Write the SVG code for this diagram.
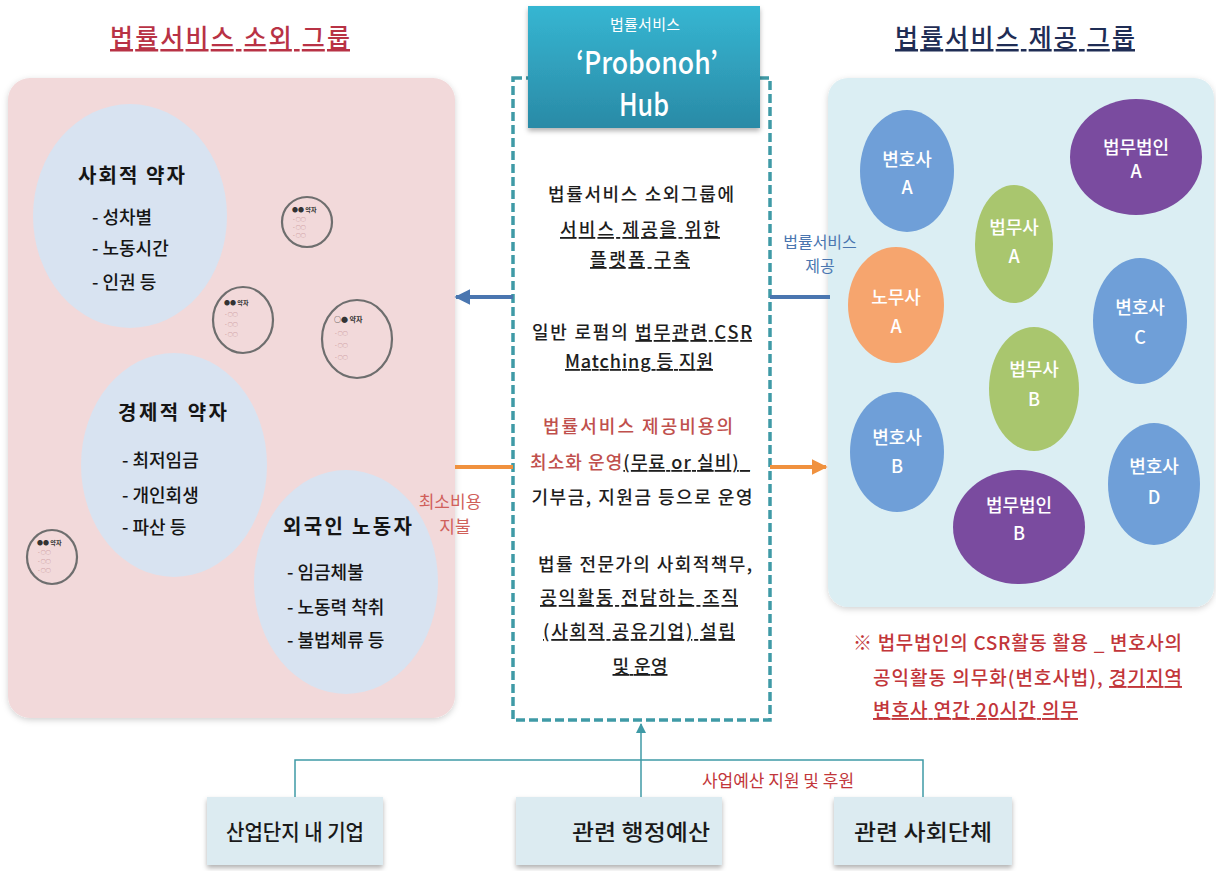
<svg xmlns="http://www.w3.org/2000/svg" width="1216" height="871" viewBox="0 0 1216 871">
<style>
text{font-family:'Noto Sans CJK KR','Noto Sans',sans-serif;}
.title{font-size:25px;text-decoration:underline;font-weight:500;}
.ct{font-size:18px;fill:#1e1e1e;text-anchor:middle;font-weight:500;}
.red{fill:#c0504d;}
.u{text-decoration:underline;}
.hd{font-size:20px;font-weight:700;fill:#151515;}
.it{font-size:18px;fill:#151515;font-weight:500;}
.et{font-size:18px;fill:#ffffff;text-anchor:middle;font-weight:500;}
.sm{fill:none;stroke:#6e6e6e;stroke-width:2.2;}
.smt{font-size:6px;fill:#333;font-weight:700;}
.smi{font-size:5px;fill:#b07070;}
.bx{fill:#dcebf1;filter:url(#sh);}
.bt{font-size:22px;fill:#1a1a1a;text-anchor:middle;font-weight:500;}
.note{font-size:19px;fill:#c2363a;font-weight:500;}
</style>
<defs>
<linearGradient id="hub" x1="0" y1="0" x2="0" y2="1">
<stop offset="0" stop-color="#36b6d2"/>
<stop offset="1" stop-color="#2a8aa6"/>
</linearGradient>
<filter id="sh" x="-10%" y="-10%" width="120%" height="130%">
<feDropShadow dx="0" dy="3" stdDeviation="2.5" flood-color="#000" flood-opacity="0.3"/>
</filter>
<filter id="soft" x="-10%" y="-10%" width="120%" height="120%">
<feDropShadow dx="0" dy="2" stdDeviation="3" flood-color="#000" flood-opacity="0.18"/>
</filter>
<marker id="mb" viewBox="0 0 10 10" refX="9" refY="5" markerWidth="4" markerHeight="4" orient="auto-start-reverse">
<path d="M0,0 L10,5 L0,10 z" fill="#4a76b0"/>
</marker>
<marker id="mo" viewBox="0 0 10 10" refX="9" refY="5" markerWidth="4" markerHeight="4" orient="auto">
<path d="M0,0 L10,5 L0,10 z" fill="#f0913e"/>
</marker>
<marker id="mt" viewBox="0 0 10 10" refX="9" refY="5" markerWidth="7" markerHeight="7" orient="auto">
<path d="M0,0 L10,5 L0,10 z" fill="#3f9aa6"/>
</marker>
</defs>
<rect width="1216" height="871" fill="#ffffff"/>

<!-- Left group -->
<g id="left-title">
<text class="title" x="230" y="47" text-anchor="middle" textLength="240" fill="#b83245">법률서비스 소외 그룹</text>
</g>
<g id="left-panel">
<rect x="8" y="78" width="447" height="640" rx="22" fill="#f2d9da" filter="url(#soft)"/>
</g>
<g id="social-weak">
<ellipse cx="130" cy="216" rx="97" ry="112" fill="#d8e3f1"/>
<text class="hd" x="78" y="183" textLength="107">사회적 약자</text>
<text class="it" x="92" y="224">- 성차별</text>
<text class="it" x="92" y="255">- 노동시간</text>
<text class="it" x="92" y="289">- 인권 등</text>
</g>
<g id="economic-weak">
<ellipse cx="174" cy="465" rx="93" ry="112" fill="#d8e3f1"/>
<text class="hd" x="118" y="420" textLength="109">경제적 약자</text>
<text class="it" x="122" y="467">- 최저임금</text>
<text class="it" x="122" y="502">- 개인회생</text>
<text class="it" x="122" y="534">- 파산 등</text>
</g>
<g id="foreign-workers">
<ellipse cx="346" cy="582" rx="92" ry="112" fill="#d8e3f1"/>
<text class="hd" x="283" y="534" textLength="129">외국인 노동자</text>
<text class="it" x="287" y="579">- 임금체불</text>
<text class="it" x="287" y="614">- 노동력 착취</text>
<text class="it" x="287" y="647">- 불법체류 등</text>
</g>
<g id="small-1">
<circle cx="307" cy="222" r="25" fill="#f3dcdd" class="sm"/>
<text class="smt" x="292" y="212">●● 약자</text>
<text class="smi" x="293" y="221">- ○○</text>
<text class="smi" x="293" y="229">- ○○</text>
<text class="smi" x="293" y="237">- ○○</text>
</g>
<g id="small-2">
<ellipse cx="243" cy="320" rx="30" ry="33" fill="#f3dcdd" class="sm"/>
<text class="smt" x="224" y="305">●● 약자</text>
<text class="smi" x="225" y="316">- ○○</text>
<text class="smi" x="225" y="326">- ○○</text>
<text class="smi" x="225" y="336">- ○○</text>
</g>
<g id="small-3">
<ellipse cx="357" cy="339" rx="35" ry="39" fill="#f3dcdd" class="sm"/>
<text class="smt" x="334" y="322" style="font-size:7px">○● 약자</text>
<text class="smi" x="335" y="335">- ○○</text>
<text class="smi" x="335" y="347">- ○○</text>
<text class="smi" x="335" y="359">- ○○</text>
</g>
<g id="small-4">
<ellipse cx="52" cy="557" rx="25" ry="27" fill="#f3dcdd" class="sm"/>
<text class="smt" x="37" y="545">●● 약자</text>
<text class="smi" x="38" y="554">- ○○</text>
<text class="smi" x="38" y="563">- ○○</text>
<text class="smi" x="38" y="572">- ○○</text>
</g>

<!-- Hub -->
<g id="hub-box">
<rect x="513" y="78" width="257" height="642" fill="#ffffff" stroke="#3f9aa6" stroke-width="3.5" stroke-dasharray="9 4"/>
</g>
<g id="hub-header">
<rect x="528" y="6" width="232" height="122" fill="url(#hub)" filter="url(#sh)"/>
<text x="645" y="30" text-anchor="middle" font-size="15" fill="#ffffff" textLength="70">법률서비스</text>
<text x="647" y="74" text-anchor="middle" font-size="31" font-weight="500" fill="#ffffff" textLength="142" lengthAdjust="spacingAndGlyphs">‘Probonoh’</text>
<text x="644" y="116" text-anchor="middle" font-size="31" font-weight="500" fill="#ffffff" textLength="50" lengthAdjust="spacingAndGlyphs">Hub</text>
</g>
<g id="hub-text">
<text class="ct" x="641" y="201" textLength="186">법률서비스 소외그룹에</text>
<text class="ct u" x="640" y="236" textLength="160">서비스 제공을 위한</text>
<text class="ct u" x="640" y="266" textLength="100">플랫폼 구축</text>
<text class="ct" x="642" y="339" textLength="220">일반 로펌의 <tspan class="u">법무관련 CSR</tspan></text>
<text class="ct u" x="639" y="368" textLength="148">Matching 등 지원</text>
<text class="ct red" x="638" y="433" textLength="190">법률서비스 제공비용의</text>
<text class="ct" x="640" y="469" textLength="220"><tspan class="red">최소화 운영</tspan><tspan class="u">(무료 or 실비)_</tspan></text>
<text class="ct" x="642" y="504" textLength="221" font-weight="700">기부금, 지원금 등으로 운영</text>
<text class="ct" x="645" y="571" textLength="214">법률 전문가의 사회적책무,</text>
<text class="ct u" x="639" y="604" textLength="198">공익활동 전담하는 조직</text>
<text class="ct u" x="639" y="638" textLength="192">(사회적 공유기업) 설립</text>
<text class="ct u" x="640" y="673" textLength="55">및 운영</text>
</g>

<!-- Right group -->
<g id="right-title">
<text class="title" x="1015" y="47" text-anchor="middle" textLength="240" fill="#1f2d55">법률서비스 제공 그룹</text>
</g>
<g id="right-panel">
<rect x="828" y="78" width="386" height="529" rx="20" fill="#dbeef3" filter="url(#soft)"/>
</g>
<g id="lawyer-a">
<ellipse cx="907" cy="171" rx="47" ry="61" fill="#6f9fd8"/>
<text class="et" x="907" y="166">변호사</text>
<text class="et" x="907" y="194">A</text>
</g>
<g id="lawfirm-a">
<ellipse cx="1136" cy="157" rx="66" ry="58" fill="#7a4b9f"/>
<text class="et" x="1136" y="154" font-size="20">법무법인</text>
<text class="et" x="1136" y="178" font-size="20">A</text>
</g>
<g id="judicial-a">
<ellipse cx="1014" cy="244" rx="39" ry="59" fill="#a9c66e"/>
<text class="et" x="1014" y="234">법무사</text>
<text class="et" x="1014" y="263">A</text>
</g>
<g id="labor-a">
<ellipse cx="896" cy="305" rx="48" ry="58" fill="#f6a56e"/>
<text class="et" x="896" y="304">노무사</text>
<text class="et" x="896" y="333">A</text>
</g>
<g id="lawyer-c">
<ellipse cx="1140" cy="321" rx="47" ry="63" fill="#6f9fd8"/>
<text class="et" x="1140" y="314">변호사</text>
<text class="et" x="1140" y="344">C</text>
</g>
<g id="judicial-b">
<ellipse cx="1034" cy="389" rx="45" ry="62" fill="#a9c66e"/>
<text class="et" x="1034" y="376">법무사</text>
<text class="et" x="1034" y="406">B</text>
</g>
<g id="lawyer-b">
<ellipse cx="897" cy="452" rx="47" ry="60" fill="#6f9fd8"/>
<text class="et" x="897" y="444">변호사</text>
<text class="et" x="897" y="473">B</text>
</g>
<g id="lawfirm-b">
<ellipse cx="1019" cy="527" rx="66" ry="57" fill="#7a4b9f"/>
<text class="et" x="1019" y="512" font-size="20">법무법인</text>
<text class="et" x="1019" y="540" font-size="20">B</text>
</g>
<g id="lawyer-d">
<ellipse cx="1154" cy="484" rx="46" ry="61" fill="#6f9fd8"/>
<text class="et" x="1154" y="473">변호사</text>
<text class="et" x="1154" y="504">D</text>
</g>
<g id="note">
<text class="note" x="853" y="650" textLength="329">※ 법무법인의 CSR활동 활용 _ 변호사의</text>
<text class="note" x="873" y="685" textLength="309">공익활동 의무화(변호사법), <tspan class="u">경기지역</tspan></text>
<text class="note u" x="873" y="717" textLength="205">변호사 연간 20시간 의무</text>
</g>

<!-- Bottom boxes -->
<g id="box-industry">
<rect class="bx" x="207" y="797" width="176" height="68"/>
<text class="bt" x="295" y="840" textLength="138" lengthAdjust="spacingAndGlyphs">산업단지 내 기업</text>
</g>
<g id="box-admin">
<rect class="bx" x="516" y="797" width="206" height="68"/>
<text class="bt" x="641" y="840" textLength="138" lengthAdjust="spacingAndGlyphs">관련 행정예산</text>
</g>
<g id="box-social">
<rect class="bx" x="834" y="797" width="178" height="68"/>
<text class="bt" x="923" y="840" textLength="138" lengthAdjust="spacingAndGlyphs">관련 사회단체</text>
</g>

<!-- Connectors -->
<g id="connectors" fill="none">
<line x1="513" y1="297" x2="456" y2="297" stroke="#4a76b0" stroke-width="4" marker-end="url(#mb)"/>
<line x1="830" y1="297" x2="770" y2="297" stroke="#4a76b0" stroke-width="4"/>
<line x1="455" y1="467" x2="513" y2="467" stroke="#f0913e" stroke-width="4"/>
<line x1="770" y1="467" x2="826" y2="467" stroke="#f0913e" stroke-width="4" marker-end="url(#mo)"/>
<polyline points="295,797 295,760 923,760 923,797" stroke="#3f9aa6" stroke-width="1.5"/>
<line x1="641" y1="797" x2="641" y2="724" stroke="#3f9aa6" stroke-width="1.5" marker-end="url(#mt)"/>
<text x="820" y="248" text-anchor="middle" font-size="16" fill="#4a76b0" stroke="none">법률서비스</text>
<text x="820" y="272" text-anchor="middle" font-size="16" fill="#4a76b0" stroke="none">제공</text>
<text x="450" y="508" text-anchor="middle" font-size="17" fill="#d0605a" stroke="none">최소비용</text>
<text x="455" y="533" text-anchor="middle" font-size="17" fill="#d0605a" stroke="none">지불</text>
<text x="778" y="787" text-anchor="middle" font-size="17" fill="#c2363a" stroke="none">사업예산 지원 및 후원</text>
</g>
</svg>
